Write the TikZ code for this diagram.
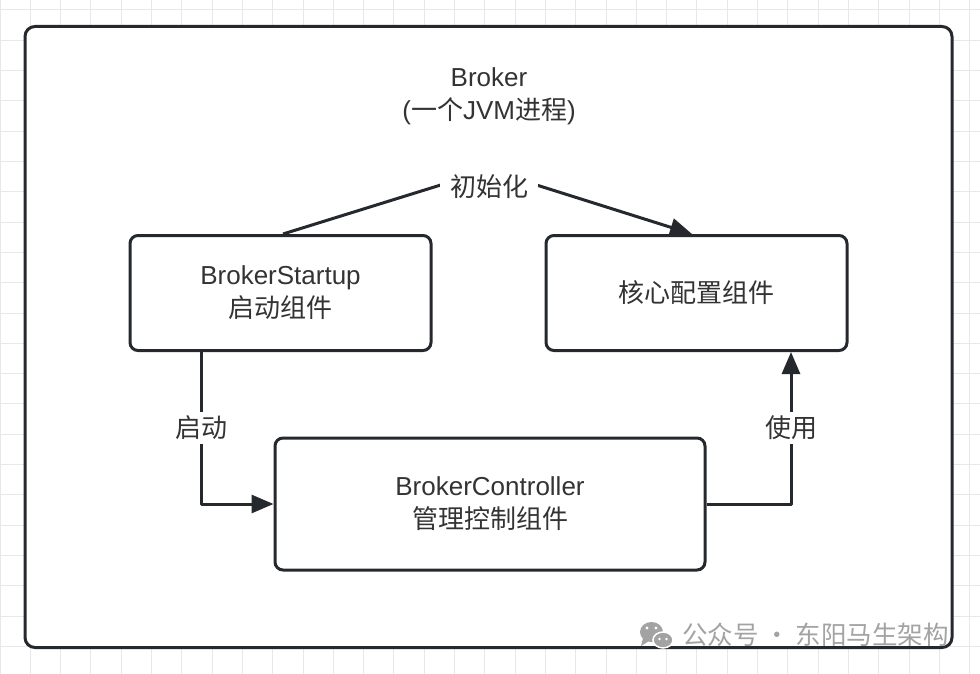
\documentclass[tikz,border=0pt]{standalone}
\usepackage{fontspec}
\setmainfont{Liberation Sans}
\newfontfamily\cjk{Noto Sans CJK SC}
\usetikzlibrary{arrows.meta}

\definecolor{lineC}{HTML}{25292D}
\definecolor{textC}{HTML}{333333}
\definecolor{gridC}{HTML}{E8E8E8}
\definecolor{markC}{HTML}{A3A3A3}

\tikzset{
  frame/.style={draw=lineC, line width=3pt, rounded corners=10pt, fill=white},
  comp/.style={draw=lineC, line width=3pt, rounded corners=8pt, fill=white,
    text=textC, align=center, font=\fontsize{26}{33}\selectfont},
  link/.style={draw=lineC, line width=3pt, line join=round,
    -{Triangle[length=22pt,width=18pt]}},
  lbl/.style={fill=white, text=textC, inner xsep=4pt, inner ysep=4pt,
    font=\cjk\fontsize{26}{33}\selectfont},
}

\begin{document}
\begin{tikzpicture}[x=1pt,y=-1pt]

\useasboundingbox (0,0) rectangle (980,674);
\draw[gridC, line width=1pt, shift={(0,10)}] (0,-10) grid[step=30.3pt] (980,664);

\node[frame, minimum width=927pt, minimum height=621pt] (broker) at (488.5,337) {};%

\node[text=textC, align=center, font=\fontsize{26}{33}\selectfont] (title) at (489,96)
{Broker\\({\cjk 一个}JVM{\cjk 进程})};%

\node[comp, minimum width=301pt, minimum height=115pt] (startup) at (280.5,293)
{BrokerStartup\\{\cjk 启动组件}};%

\node[comp, minimum width=301pt, minimum height=115pt] (config) at (696.5,293)
{{\cjk 核心配置组件}};%

\node[comp, minimum width=430pt, minimum height=132pt] (ctrl) at (490,504)
{BrokerController\\{\cjk 管理控制组件}};%

\coordinate (i1) at (283,0);
\coordinate (apex) at (489,170);
\coordinate (i2) at (692,0);
\coordinate (s1) at (201,0);
\coordinate (u1) at (791,0);

\draw[link] (startup.north -| i1) -- (apex) -- (config.north -| i2);
\node[lbl, inner xsep=10pt, inner ysep=11pt] (init) at (489,187) {初始化};

\draw[link] (startup.south -| s1) |- (ctrl.west) node[lbl, pos=0.25] (start) {启动};
\draw[link] (ctrl.east) -| (config.south -| u1) node[lbl, pos=0.75] (use) {使用};

% watermark
\fill[markC] (651.5,632) ellipse (11.5pt and 10pt);
\fill[markC] (643,638) -- (641,646) -- (649,641) -- cycle;
\filldraw[markC, draw=white, line width=1.5pt] (663,640) ellipse (10pt and 8pt);
\fill[white] (647,628) circle (1.6pt) (656,628) circle (1.6pt)
  (659.5,639) circle (1.4pt) (666.5,639) circle (1.4pt);
\node[anchor=west, text=markC, inner sep=0pt, font=\cjk\fontsize{25.5}{30}\selectfont] (mark) at (682,635)
{公众号 · 东阳马生架构};

\end{tikzpicture}
\end{document}
